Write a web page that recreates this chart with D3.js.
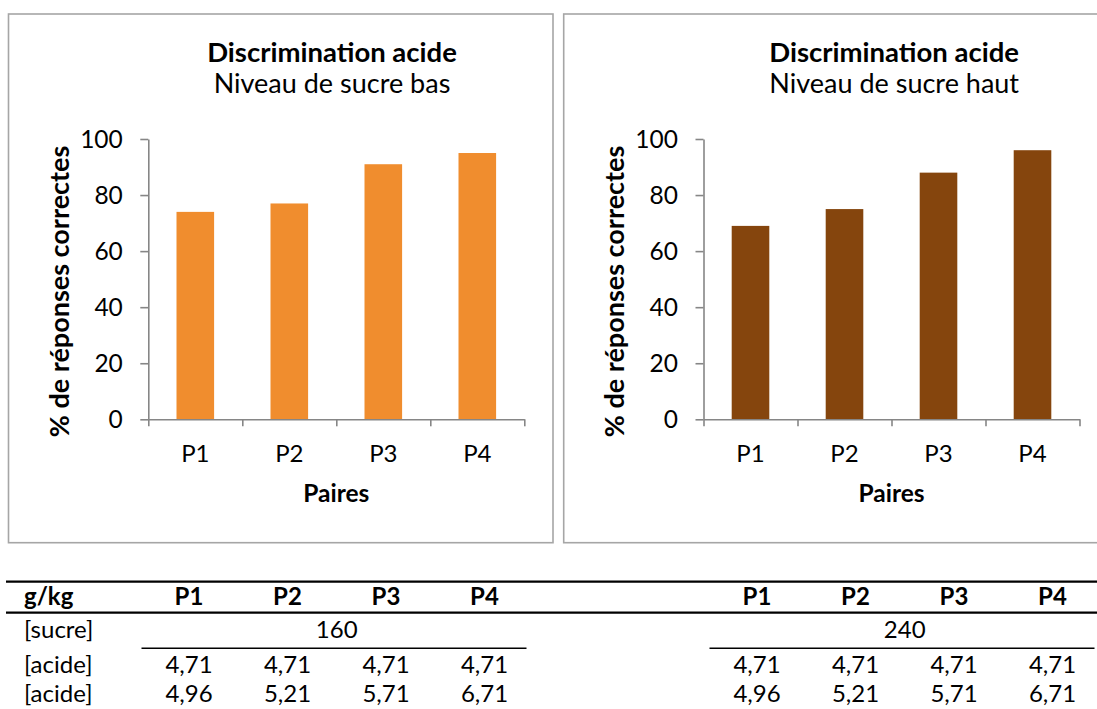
<!DOCTYPE html>
<html><head><meta charset="utf-8">
<script src="https://cdn.jsdelivr.net/npm/d3@7"></script>
<style>
body{margin:0;background:#fff}
svg{display:block}
text{font-family:Lato,"Open Sans",sans-serif;fill:#000}
</style>
</head><body>
<svg id="c" width="1097" height="709"></svg>
<script>
// ---- data ----
const categories = ["P1", "P2", "P3", "P4"];
const lowSugarValues = [74, 77, 91, 95];
const highSugarValues = [69, 75, 88, 96];
const yTicks = [0, 20, 40, 60, 80, 100];
const chartTitles = ["Discrimination acide", "Discrimination acide"];
const chartSubtitles = ["Niveau de sucre bas", "Niveau de sucre haut"];
const yAxisTitle = "% de réponses correctes";
const xAxisTitle = "Paires";
const tableHeader = ["P1", "P2", "P3", "P4"];
const tableUnit = "g/kg";
const rowLabels = ["[sucre]", "[acide]", "[acide]"];
const sugarLevels = ["160", "240"];
const acidReference = ["4,71", "4,71", "4,71", "4,71"];
const acidTest = ["4,96", "5,21", "5,71", "6,71"];

// ---- layout ----
const svg = d3.select("#c");
const panels = [
  {values: lowSugarValues, color: "#f08d2e", boxX: 8.5, titleDx: 323.5, title: chartTitles[0], sub: chartSubtitles[0]},
  {values: highSugarValues, color: "#85450d", boxX: 563.7, titleDx: 330.5, title: chartTitles[1], sub: chartSubtitles[1]}
];
const boxY = 14, boxW = 544.5, boxH = 528.7;
const plotDx = 139.8, plotW = 376, plotTop = 139, plotBottom = 419.3;
const axisColor = "#868686";

panels.forEach(p => {
  const g = svg.append("g");
  g.append("rect").attr("x", p.boxX).attr("y", boxY).attr("width", boxW).attr("height", boxH)
    .attr("fill", "#fff").attr("stroke", "#a6a6a6").attr("stroke-width", 1.6);
  const x0 = p.boxX + plotDx;
  const x = d3.scaleBand().domain(categories).range([x0, x0 + plotW]).paddingInner(0.6).paddingOuter(0.3);
  const xEdges = d3.scaleLinear().domain([0, categories.length]).range([x0, x0 + plotW]);
  const y = d3.scaleLinear().domain([0, 100]).range([plotBottom, plotTop]);

  // bars
  g.selectAll("rect.bar").data(p.values).join("rect").attr("class", "bar")
    .attr("x", (d, i) => x(categories[i])).attr("width", x.bandwidth())
    .attr("y", d => y(d)).attr("height", d => y(0) - y(d)).attr("fill", p.color);

  // y axis
  const ya = g.append("g").attr("transform", `translate(${x0},0)`)
    .call(d3.axisLeft(y).tickValues(yTicks).tickSize(8).tickPadding(17.5).tickSizeOuter(0));
  ya.select(".domain").attr("stroke", axisColor).attr("stroke-width", 1.6);
  ya.selectAll(".tick line").attr("stroke", axisColor).attr("stroke-width", 1.6);
  ya.selectAll(".tick text").style("font-size", "24.5px").attr("dy", "0.35em");

  // x axis ticks at category boundaries
  const xa = g.append("g").attr("transform", `translate(0,${plotBottom})`)
    .call(d3.axisBottom(xEdges).ticks(categories.length).tickSize(7).tickFormat("").tickSizeOuter(0));
  xa.select(".domain").attr("stroke", axisColor).attr("stroke-width", 1.6);
  xa.selectAll(".tick line").attr("stroke", axisColor).attr("stroke-width", 1.6);
  // category labels
  const xl = g.append("g").attr("transform", `translate(0,${plotBottom})`)
    .call(d3.axisBottom(x).tickSize(0).tickPadding(0));
  xl.select(".domain").remove();
  xl.selectAll(".tick text").attr("y", 42.4).attr("dy", 0).style("font-size", "24px");

  // titles
  g.append("text").attr("x", p.boxX + p.titleDx).attr("y", 61.7).attr("text-anchor", "middle")
    .style("font-size", "27.5px").style("font-weight", "bold").text(p.title);
  g.append("text").attr("x", p.boxX + p.titleDx).attr("y", 93.3).attr("text-anchor", "middle")
    .style("font-size", "27px").text(p.sub);
  // axis titles
  g.append("text").attr("transform", `translate(${x0 - 87.7},291.5) rotate(-90)`).attr("text-anchor", "middle")
    .attr("dy", "0.32em").style("font-size", "27px").style("font-weight", "bold").text(yAxisTitle);
  g.append("text").attr("x", x0 + plotW / 2).attr("y", 501.7).attr("text-anchor", "middle")
    .style("font-size", "24.5px").style("font-weight", "bold").text(xAxisTitle);
});

// ---- table ----
const colsLeft = d3.scalePoint().domain(categories).range([189, 484.5]);
const colsRight = d3.scalePoint().domain(categories).range([757, 1052.5]);
const rowY = [605, 638.3, 672.7, 701.7];
const tfont = "24px";
const tg = svg.append("g");
tg.append("line").attr("x1", 6).attr("x2", 1097).attr("y1", 581.7).attr("y2", 581.7).attr("stroke", "#000").attr("stroke-width", 2.2);
tg.append("line").attr("x1", 6).attr("x2", 1097).attr("y1", 612.7).attr("y2", 612.7).attr("stroke", "#000").attr("stroke-width", 2.2);
tg.append("text").attr("x", 24).attr("y", rowY[0]).style("font-size", tfont).style("font-weight", "bold").text(tableUnit);
rowLabels.forEach((r, i) => tg.append("text").attr("x", 24).attr("y", rowY[i + 1]).style("font-size", tfont).text(r));

[colsLeft, colsRight].forEach((cs, k) => {
  tg.selectAll(null).data(tableHeader).join("text").attr("x", d => cs(d)).attr("y", rowY[0])
    .attr("text-anchor", "middle").style("font-size", tfont).style("font-weight", "bold").text(d => d);
  const mid = (cs(categories[0]) + cs(categories[categories.length - 1])) / 2;
  tg.append("text").attr("x", mid).attr("y", rowY[1]).attr("text-anchor", "middle").style("font-size", tfont).text(sugarLevels[k]);
  tg.append("line").attr("x1", cs(categories[0]) - 47.5).attr("x2", cs(categories[categories.length - 1]) + 42)
    .attr("y1", 648.3).attr("y2", 648.3).attr("stroke", "#000").attr("stroke-width", 1.6);
  tg.selectAll(null).data(acidReference).join("text").attr("x", (d, i) => cs(categories[i])).attr("y", rowY[2])
    .attr("text-anchor", "middle").style("font-size", tfont).text(d => d);
  tg.selectAll(null).data(acidTest).join("text").attr("x", (d, i) => cs(categories[i])).attr("y", rowY[3])
    .attr("text-anchor", "middle").style("font-size", tfont).text(d => d);
});
</script>
</body></html>
